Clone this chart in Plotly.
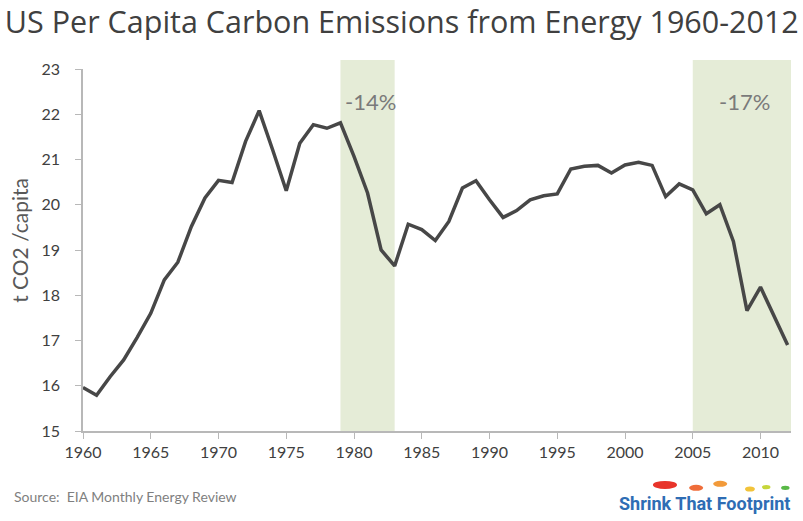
import plotly.graph_objects as go

years = list(range(1960, 2013))
emissions = [15.96, 15.79, 16.20, 16.57, 17.07, 17.60, 18.34, 18.73, 19.52, 20.15,
             20.54, 20.49, 21.40, 22.08, 21.21, 20.31, 21.36, 21.77, 21.69, 21.81,
             21.07, 20.26, 19.00, 18.65, 19.57, 19.45, 19.21, 19.63, 20.37, 20.53,
             20.11, 19.72, 19.87, 20.11, 20.20, 20.24, 20.79, 20.85, 20.87, 20.70,
             20.88, 20.94, 20.87, 20.18, 20.46, 20.33, 19.80, 20.00, 19.19, 17.66,
             18.18, 17.53, 16.90]

shade_periods = [(1979, 1983), (2005, 2012.25)]
shade_labels = ["-14%", "-17%"]
label_years = [1981.2, 2008.8]
label_value = 22.28
x_ticks = list(range(1960, 2011, 5))
y_ticks = list(range(15, 24))

font_family = "Lato, 'Open Sans', 'DejaVu Sans', sans-serif"

fig = go.Figure()

for (x0, x1) in shade_periods:
    fig.add_shape(type="rect", xref="x", yref="paper", x0=x0, x1=x1, y0=0, y1=1.025,
                  fillcolor="#e5ecd7", line=dict(width=0), layer="below")

fig.add_trace(go.Scatter(x=years, y=emissions, mode="lines",
                         line=dict(color="#474747", width=3.5), showlegend=False))

for lx, lab in zip(label_years, shade_labels):
    fig.add_annotation(x=lx, xref="x", y=label_value, yref="y", yanchor="middle",
                       text=lab, showarrow=False,
                       font=dict(family=font_family, size=22, color="#7a7a7a"))

fig.add_annotation(x=-0.089, xref="paper", y=0.528, yref="paper", textangle=-90,
                   text="t CO2 /capita", showarrow=False, xanchor="center", yanchor="middle",
                   font=dict(family=font_family, size=21, color="#595959"))

fig.add_annotation(x=-0.1003, xref="paper", y=-0.182, yref="paper", showarrow=False,
                   xanchor="left", yanchor="middle",
                   text="Source:  EIA Monthly Energy Review",
                   font=dict(family=font_family, size=14, color="#7f7f7f"))
fig.add_annotation(x=1.0014, xref="paper", y=-0.199, yref="paper", showarrow=False,
                   xanchor="right", yanchor="middle",
                   text="<b>Shrink That Footprint</b>",
                   font=dict(family="Roboto, sans-serif", size=18, color="#2e6db4"))

# footprint decoration in the logo
prints = [(0.822, -0.149, "#e8342a", 0.017, 0.011), (0.866, -0.157, "#ef6d3a", 0.0099, 0.0083),
          (0.900, -0.146, "#f29a3a", 0.0099, 0.0083), (0.942, -0.160, "#f2c33a", 0.007, 0.007),
          (0.965, -0.155, "#c6d63a", 0.006, 0.006), (0.992, -0.157, "#59b947", 0.006, 0.006)]
for (px, py, col, w, h) in prints:
    fig.add_shape(type="circle", xref="paper", yref="paper",
                  x0=px - w, x1=px + w, y0=py - h, y1=py + h,
                  fillcolor=col, line=dict(width=0))

fig.update_layout(
    width=803, height=521,
    margin=dict(l=83, r=12, t=69, b=90, autoexpand=False),
    paper_bgcolor="white", plot_bgcolor="white",
    title=dict(text="US Per Capita Carbon Emissions from Energy 1960-2012",
               x=0.006, xanchor="left", y=0.958, yanchor="middle",
               font=dict(family="'Open Sans', sans-serif", size=30.5, color="#404040")),
    xaxis=dict(range=[1960, 2012.25], tickvals=x_ticks, showgrid=False, zeroline=False,
               showline=True, linecolor="#b8b8b8", linewidth=1.5, automargin=False,
               ticks="outside", ticklen=6, tickcolor="#b8b8b8",
               tickfont=dict(family=font_family, size=16, color="#404040")),
    yaxis=dict(range=[15, 23], tickvals=y_ticks, showgrid=False, zeroline=False,
               showline=True, linecolor="#b8b8b8", linewidth=1.5, automargin=False,
               ticks="outside", ticklen=6, tickcolor="#b8b8b8", ticklabelstandoff=12,
               tickfont=dict(family=font_family, size=16, color="#404040")),
)

fig.write_html("out.html", config={"displayModeBar": False},
               post_script="document.body.style.margin='0';")
